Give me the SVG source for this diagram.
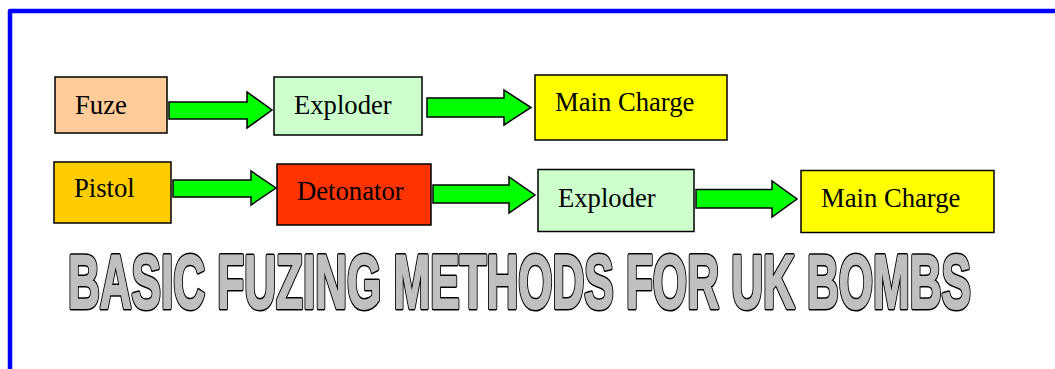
<svg xmlns="http://www.w3.org/2000/svg" width="1055" height="369" viewBox="0 0 1055 369">
<style>
.box{stroke:#000;stroke-width:1.5}
.lbl{font-family:"Liberation Serif","Times New Roman",serif;font-size:26.67px;fill:#000}
.arr{fill:#00FF00;stroke:#000;stroke-width:1.5;stroke-linejoin:miter}
.title{font-family:"Liberation Sans",Arial,sans-serif;font-weight:bold;font-size:76px;stroke-linejoin:round}
.t-out{fill:#000;stroke:#000;stroke-width:5}
.t-in{fill:#C0C0C0;stroke:#C0C0C0;stroke-width:2}
</style>
<rect width="1055" height="369" fill="#fff"/>
<path d="M10,369 V11 H1055" fill="none" stroke="#0000FF" stroke-width="4.5" stroke-linejoin="round"/>
<g id="connectors">
<path class="arr" d="M169,102 H247 V92 L272,110 L247,128 V119 H169 Z"/>
<path class="arr" d="M427,98 H504 V90 L531,107.5 L504,125 V117 H427 Z"/>
<path class="arr" d="M173,180 H251 V171 L276,188 L251,205 V197 H173 Z"/>
<path class="arr" d="M433,185 H509 V177 L535,195 L509,213 V203 H433 Z"/>
<path class="arr" d="M696,189.5 H772 V181 L797,199 L772,217 V208 H696 Z"/>
</g>
<g id="fuze"><rect class="box" x="55" y="77" width="112" height="56" fill="#FFCC99"/><text class="lbl" x="75" y="114">Fuze</text></g>
<g id="exploder1"><rect class="box" x="274" y="77" width="148" height="58" fill="#CCFFCC"/><text class="lbl" x="294" y="114">Exploder</text></g>
<g id="maincharge1"><rect class="box" x="535" y="75" width="192" height="65" fill="#FFFF00"/><text class="lbl" x="555" y="111">Main Charge</text></g>
<g id="pistol"><rect class="box" x="54" y="162" width="117" height="61" fill="#FFCC00"/><text class="lbl" x="74" y="197">Pistol</text></g>
<g id="detonator"><rect class="box" x="277" y="164" width="154" height="61" fill="#FF3300"/><text class="lbl" x="297" y="200">Detonator</text></g>
<g id="exploder2"><rect class="box" x="538" y="169.5" width="156" height="62" fill="#CCFFCC"/><text class="lbl" x="558" y="207">Exploder</text></g>
<g id="maincharge2"><rect class="box" x="801" y="170.5" width="193" height="62" fill="#FFFF00"/><text class="lbl" x="821" y="207">Main Charge</text></g>
<g id="title" class="title">
<text class="t-out" x="68" y="308" textLength="903" lengthAdjust="spacingAndGlyphs">BASIC FUZING METHODS FOR UK BOMBS</text>
<text class="t-in" x="68" y="308" textLength="903" lengthAdjust="spacingAndGlyphs">BASIC FUZING METHODS FOR UK BOMBS</text>
</g>
</svg>
